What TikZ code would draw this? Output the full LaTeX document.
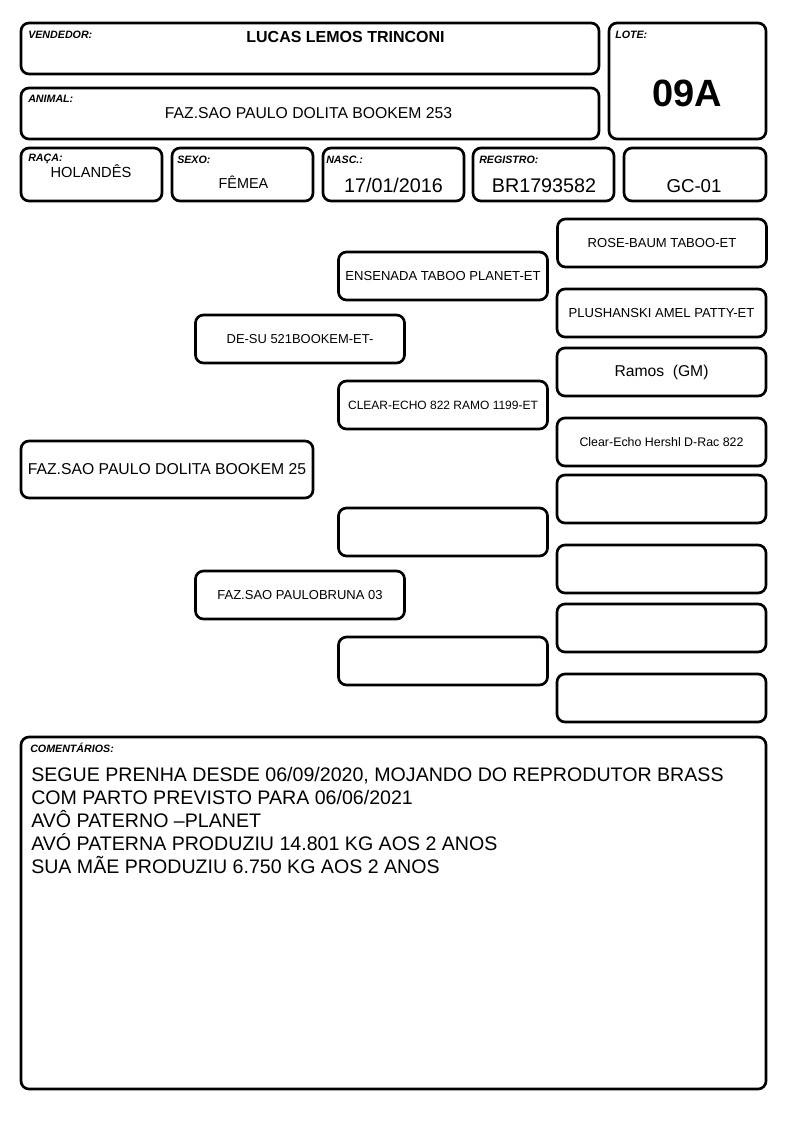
\documentclass[tikz,border=0pt]{standalone}
\usepackage{fontspec}
\setmainfont{Liberation Sans}
\usetikzlibrary{fit}
\newcommand{\fs}[1]{\fontsize{#1}{#1}\selectfont}
\tikzset{
  box/.style={draw=black, line width=2pt, rounded corners=6pt, inner sep=0pt, fill=white, align=center},
  pbox/.style={box, minimum width=156.75pt, minimum height=36pt, anchor=center},
  lab/.style={inner sep=0pt, anchor=base west, font=\fs{8}\bfseries\itshape},
  val/.style={inner sep=0pt, anchor=base},
  cmt/.style={inner sep=0pt, anchor=base west, font=\fs{14.7}}
}
\begin{document}
\begin{tikzpicture}[x=0.75pt, y=-0.75pt]
\useasboundingbox (0,0) rectangle (794,1123);
% header boxes
\node[box, fit={(21,23) (599,74)}] (vend) {};
\node[box, fit={(21,88) (599,139)}] (anim) {};
\node[box, fit={(609,23) (766,139)}] (lote) {};
\node[box, fit={(21,148) (162,201)}] (raca) {};
\node[box, fit={(172,148) (313,201)}] (sexo) {};
\node[box, fit={(323,148) (464,201)}] (nasc) {};
\node[box, fit={(473,148) (614,201)}] (reg) {};
\node[box, fit={(624,148) (766,201)}] (gc) {};
% header labels
\node[lab] (lvend) at (28,39) {VENDEDOR:};
\node[lab] (lanim) at (28,102.5) {ANIMAL:};
\node[lab] (llote) at (615,39) {LOTE:};
\node[lab] (lraca) at (28,162) {RAÇA:};
\node[lab] (lsexo) at (177,164) {SEXO:};
\node[lab] (lnasc) at (326,164) {NASC.:};
\node[lab] (lreg) at (479,164) {REGISTRO:};
% header values
\node[val, font=\fs{12}\bfseries] (vvend) at (345.5,43) {LUCAS LEMOS TRINCONI};
\node[val, font=\fs{11.8}] (vanim) at (308.5,119) {FAZ.SAO PAULO DOLITA BOOKEM 253};
\node[val, font=\fs{28.5}\bfseries] (vlote) at (687,107) {09A};
\node[val, font=\fs{11}] (vraca) at (91,178) {HOLANDÊS};
\node[val, font=\fs{10.8}] (vsexo) at (243.5,189) {FÊMEA};
\node[val, font=\fs{14.8}] (vnasc) at (393.5,193) {17/01/2016};
\node[val, font=\fs{14.8}] (vreg) at (544,193) {BR1793582};
\node[val, font=\fs{14}] (vgc) at (694,193) {GC-01};
% pedigree
\node[pbox, font=\fs{9.8}] (p1) at (662,243) {ROSE-BAUM TABOO-ET};
\node[pbox, font=\fs{9.8}] (p2) at (443,276) {ENSENADA TABOO PLANET-ET};
\node[pbox, font=\fs{9.8}] (p3) at (661.5,313) {PLUSHANSKI AMEL PATTY-ET};
\node[pbox, font=\fs{9.7}] (p4) at (300,339) {DE-SU 521BOOKEM-ET-};
\node[pbox, font=\fs{11.75}] (p5) at (661.5,372) {Ramos\ \ (GM)};
\node[pbox, font=\fs{9}] (p6) at (443,405) {CLEAR-ECHO 822 RAMO 1199-ET};
\node[pbox, font=\fs{9.3}] (p7) at (661.5,442) {Clear-Echo Hershl D-Rac 822};
\node[pbox, font=\fs{11.8}, minimum width=219pt, minimum height=42.75pt] (p8) at (167,469.5) {FAZ.SAO PAULO DOLITA BOOKEM 25};
\node[pbox] (e1) at (661.5,499) {};
\node[pbox] (e2) at (443,532) {};
\node[pbox] (e3) at (661.5,569) {};
\node[pbox, font=\fs{9.75}] (p9) at (300,595) {FAZ.SAO PAULOBRUNA 03};
\node[pbox] (e4) at (661.5,628) {};
\node[pbox] (e5) at (443,661) {};
\node[pbox] (e6) at (661.5,698) {};
% comments
\node[box, fit={(21,737) (766,1089)}] (com) {};
\node[lab] (lcom) at (30,752) {COMENTÁRIOS:};
\node[cmt] (c1) at (31,781) {SEGUE PRENHA DESDE 06/09/2020, MOJANDO DO REPRODUTOR BRASS};
\node[cmt] (c2) at (31,804) {COM PARTO PREVISTO PARA 06/06/2021};
\node[cmt] (c3) at (31,827) {AVÔ PATERNO –PLANET};
\node[cmt] (c4) at (31,850) {AVÓ PATERNA PRODUZIU 14.801 KG AOS 2 ANOS};
\node[cmt] (c5) at (31,873) {SUA MÃE PRODUZIU 6.750 KG AOS 2 ANOS};
\end{tikzpicture}
\end{document}
